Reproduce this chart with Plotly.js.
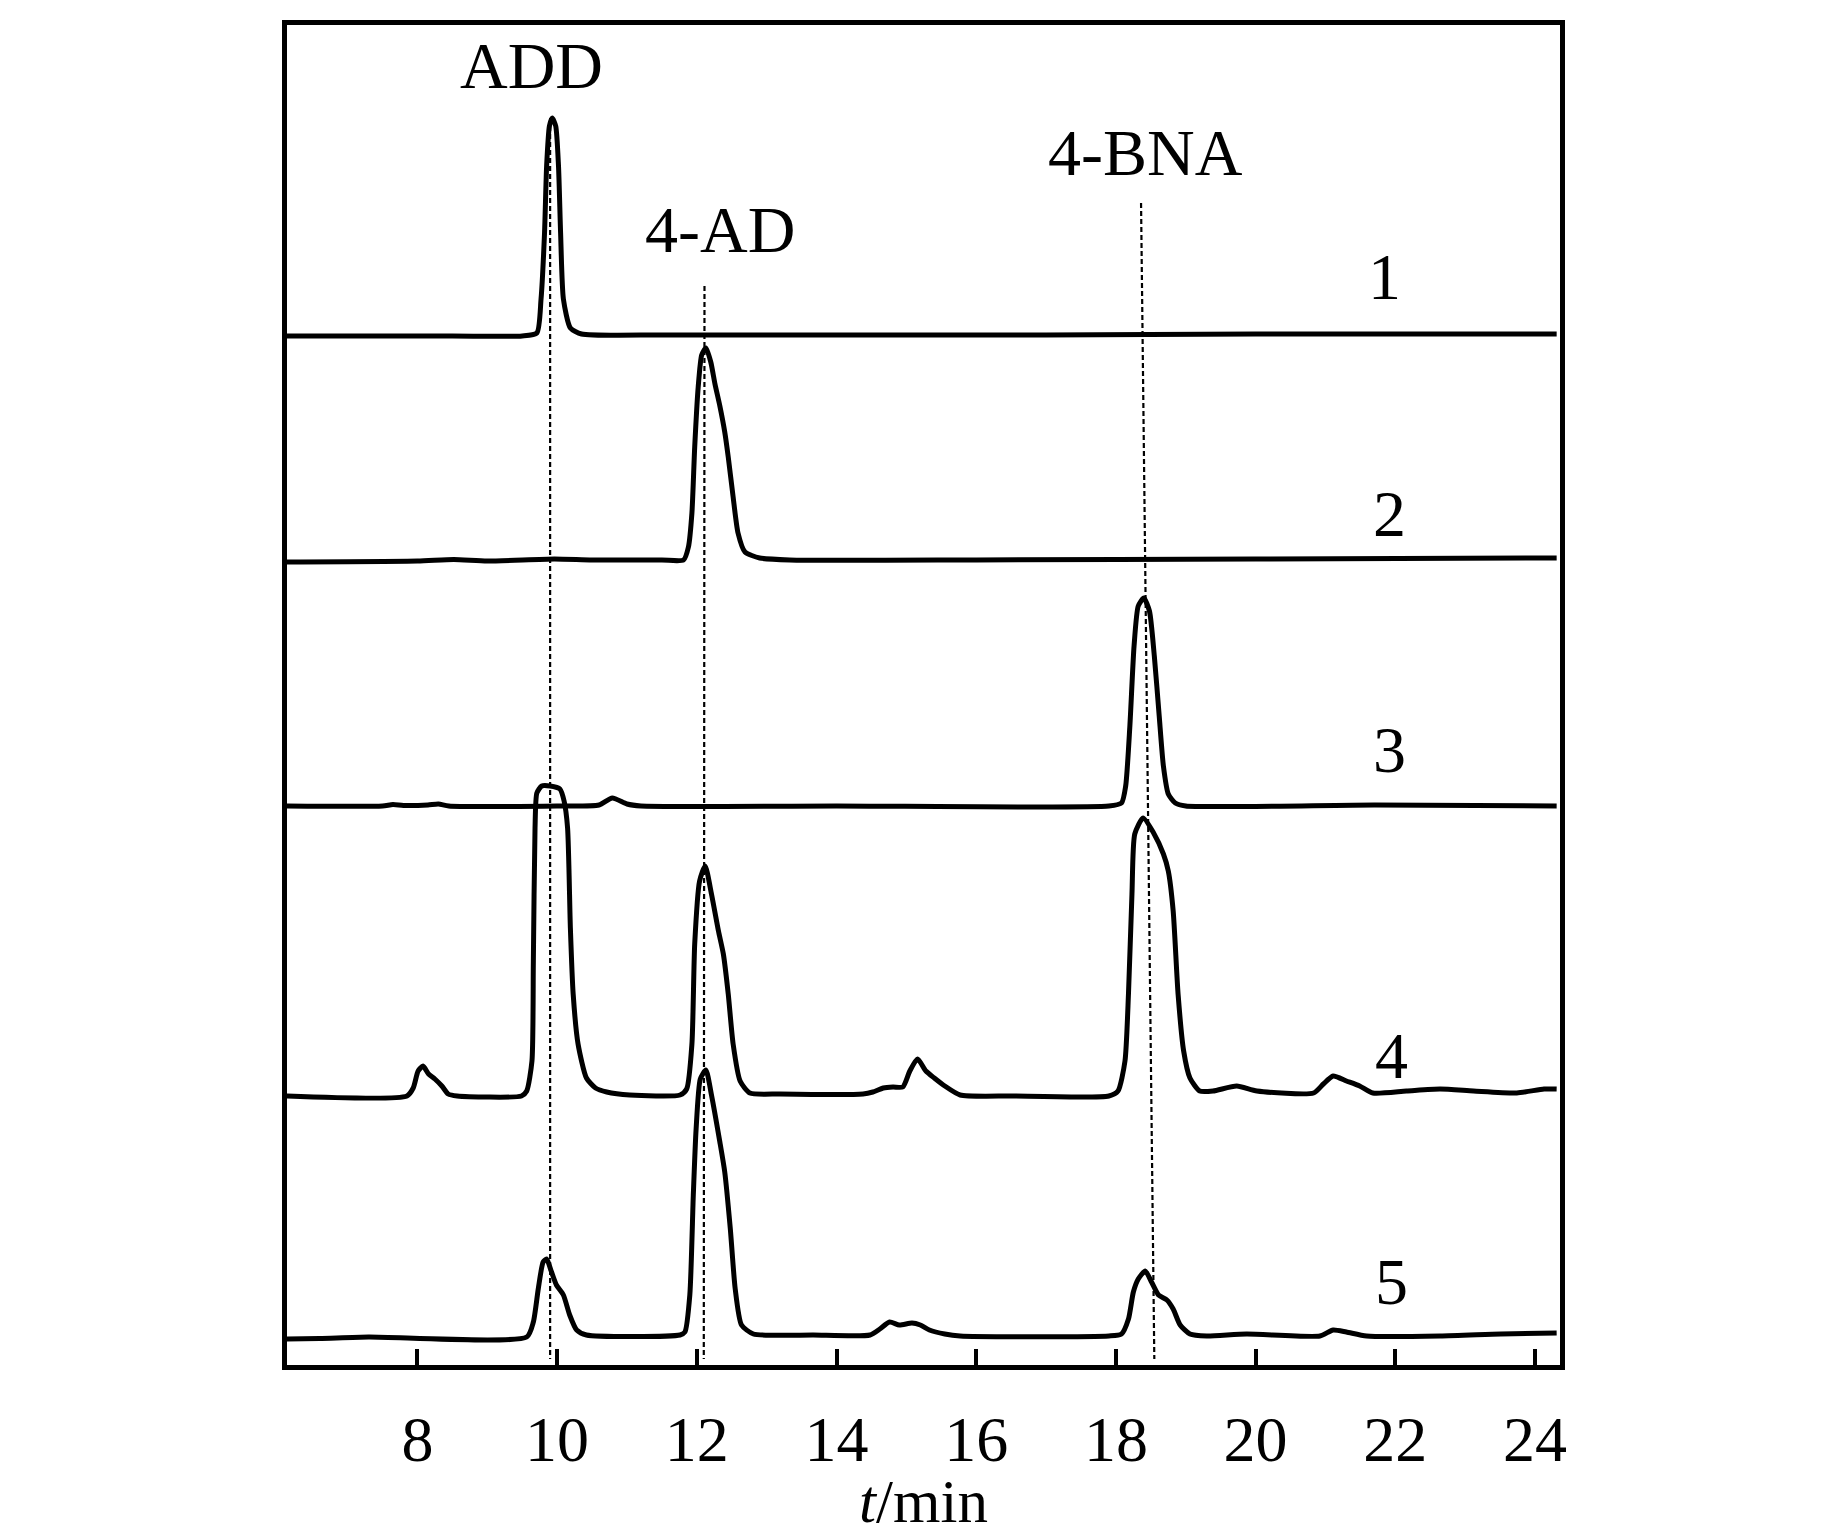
<!DOCTYPE html>
<html>
<head>
<meta charset="utf-8">
<script src="https://cdn.plot.ly/plotly-3.0.1.min.js"></script>
<style>
  html, body { margin: 0; padding: 0; background: #fff; }
  #chart { width: 1843px; height: 1535px; }
</style>
</head>
<body>
<div id="chart"></div>
<script>
// HPLC chromatograms 1-5 (arbitrary detector units above each baseline)

const tickTimes = [8, 10, 12, 14, 16, 18, 20, 22, 24];
const traceNames = ['1', '2', '3', '4', '5'];
const peakNames = ['ADD', '4-AD', '4-BNA'];

// retention time of each reference dashed line (top end, bottom end)
const dashTimeTop = [9.90, 12.11, 18.36];
const dashTimeBottom = [9.90, 12.10, 18.55];

const t1 = [6.13, 8.5, 9.5, 9.71, 9.77, 9.82, 9.85, 9.89, 9.93, 9.98, 10.02, 10.05, 10.09, 10.19, 10.35, 11.5, 14, 17, 20, 22, 24.31];
const s1 = [0, 0, 0, 3, 37, 103, 170, 210, 218, 210, 170, 103, 37, 8, 2, 1, 1, 1, 2, 2, 2];

const t2 = [6.13, 8.0, 8.52, 9.0, 9.96, 10.5, 11.5, 11.81, 11.88, 11.93, 11.97, 12.02, 12.07, 12.13, 12.20, 12.26, 12.33, 12.40, 12.45, 12.52, 12.59, 12.69, 12.90, 13.33, 16, 20, 24.31];
const s2 = [-2, -1, 0.5, -1, 1, 0, 0, 0, 13, 47, 113, 173, 205, 212, 198, 176, 154, 128, 103, 63, 27, 8, 2, 0, 0, 1, 2];

const t3 = [6.13, 7.5, 7.65, 7.8, 8.15, 8.3, 8.45, 10.0, 10.6, 10.79, 11.0, 11.2, 14, 17.9, 18.08, 18.14, 18.20, 18.26, 18.32, 18.40, 18.48, 18.55, 18.62, 18.68, 18.75, 18.85, 19.0, 21.7, 24.31];
const s3 = [0, 0, 1.5, 0.5, 1, 2, 0, 0, 1, 8, 2, 0, 0, 0, 3, 20, 80, 160, 200, 208, 195, 150, 90, 40, 12, 3, 0, 1, 0];

const t4 = [6.13, 7.85, 7.94, 8.01, 8.08, 8.16, 8.25, 8.35, 8.44, 8.57, 9.49, 9.565, 9.64, 9.66, 9.684, 9.71, 9.78, 9.90, 10.04, 10.10, 10.15, 10.19, 10.23, 10.30, 10.42, 10.55, 10.71, 11.04, 11.76,
            11.855, 11.93, 11.97, 12.04, 12.12, 12.21, 12.31, 12.38, 12.45, 12.52, 12.62, 12.76, 13.19, 14.38, 14.52, 14.67, 14.81, 14.95, 15.05, 15.16, 15.28, 15.40, 15.55, 15.77, 16.5,
            17.9, 18.03, 18.13, 18.18, 18.23, 18.27, 18.39, 18.54, 18.68, 18.75, 18.82, 18.89, 18.97, 19.06, 19.20, 19.39, 19.73, 20.02, 20.83, 20.97, 21.11, 21.30, 21.49, 21.68, 22.16, 22.64, 23.12, 23.74, 24.13, 24.31];
const s4 = [0, 0, 8, 25, 30, 22, 17, 10, 2, 0, 0, 5, 35, 135, 268, 303, 310, 310, 307, 295, 268, 168, 102, 52, 18, 8, 4, 1, 1,
            7, 52, 152, 215, 230, 202, 165, 142, 102, 52, 15, 3, 2, 2, 4, 8, 9, 9, 25, 37, 25, 18, 10, 1, 0,
            0, 5, 35, 102, 202, 262, 278, 263, 242, 225, 185, 102, 45, 18, 5, 5, 10, 5, 3, 12, 20, 15, 10, 3, 5, 7, 5, 3, 7, 7];

const t5 = [6.13, 6.6, 7.3, 9.565, 9.66, 9.73, 9.80, 9.85, 9.92, 9.99, 10.09, 10.18, 10.28, 10.42, 11.76, 11.83, 11.90, 11.95, 11.99, 12.05, 12.13, 12.21, 12.33, 12.40, 12.48, 12.55, 12.64, 12.81, 13.67,
            14.48, 14.62, 14.76, 14.90, 15.08, 15.20, 15.33, 15.55, 15.77, 17.9, 18.08, 18.18, 18.25, 18.32, 18.42, 18.51, 18.61, 18.73, 18.82, 18.92, 19.06, 19.30, 19.87, 20.92, 21.11, 21.30, 21.59, 22.64, 23.51, 24.31];
const s5 = [-2, -1.5, 0, 0, 15, 48, 75, 78, 65, 52, 42, 22, 7, 2, 2, 5, 42, 142, 208, 258, 267, 242, 195, 165, 108, 48, 12, 3, 2,
            2, 8, 15, 12, 14, 12, 7, 3, 1, 1, 3, 18, 45, 58, 66, 55, 42, 37, 28, 12, 3, 1, 3, 1, 7, 5, 1, 1, 3, 4];

const times = [t1, t2, t3, t4, t5];
const signals = [s1, s2, s3, s4, s5];

// vertical stacking of the five runs
const traceOffsets = [1031, 807, 561, 271, 30];

const serif = 'Liberation Serif, Times New Roman, serif';

window.createChromatogram = function(containerId) {
    const traces = times.map((t, i) => ({
        x: t,
        y: signals[i].map(v => v + traceOffsets[i]),
        mode: 'lines',
        type: 'scatter',
        name: traceNames[i],
        line: { color: '#000', width: 5, shape: 'spline', smoothing: 0.6 },
        hoverinfo: 'x+name'
    }));

    // dashed guides: from the standard peak down to the axis
    const dashTops = [1031 + 218, 807 + 212 + 62, 561 + 208 + 395];
    const dashTraces = peakNames.map((name, i) => ({
        x: [dashTimeTop[i], dashTimeBottom[i]],
        y: [dashTops[i], 8],
        mode: 'lines',
        type: 'scatter',
        line: { color: '#000', width: 2.2, dash: '5px,3px' },
        hoverinfo: 'skip'
    }));

    const labelFont = { family: serif, size: 66, color: '#000' };
    const annotations = [
        { x: 9.63, y: 1302, text: 'ADD' },
        { x: 12.33, y: 1138, text: '4-AD' },
        { x: 18.42, y: 1215, text: '4-BNA' },
        { x: 21.85, y: 1091, text: traceNames[0] },
        { x: 21.92, y: 854, text: traceNames[1] },
        { x: 21.92, y: 618, text: traceNames[2] },
        { x: 21.95, y: 312, text: traceNames[3] },
        { x: 21.95, y: 86, text: traceNames[4] }
    ].map(a => ({ ...a, xref: 'x', yref: 'y', showarrow: false, font: labelFont, xanchor: 'center', yanchor: 'middle' }));

    const layout = {
        width: 1843,
        height: 1535,
        margin: { l: 287, r: 283, t: 25, b: 170 },
        paper_bgcolor: '#fff',
        plot_bgcolor: '#fff',
        showlegend: false,
        xaxis: {
            range: [6.133, 24.358],
            tickvals: tickTimes,
            ticktext: tickTimes.map(String),
            ticks: 'inside',
            ticklen: 16,
            tickwidth: 3.5,
            tickcolor: '#000',
            ticklabelstandoff: 14,
            tickfont: { family: serif, size: 64, color: '#000' },
            showline: true,
            linecolor: '#000',
            linewidth: 4.5,
            mirror: true,
            showgrid: false,
            zeroline: false,
            title: {
                text: '<i>t</i>/min',
                font: { family: serif, size: 61, color: '#000' },
                standoff: 0
            }
        },
        yaxis: {
            range: [2, 1342],
            showticklabels: false,
            ticks: '',
            showline: true,
            linecolor: '#000',
            linewidth: 4.5,
            mirror: true,
            showgrid: false,
            zeroline: false
        },
        annotations: annotations
    };

    Plotly.newPlot(containerId, traces.concat(dashTraces), layout, { displayModeBar: false, responsive: false });
};

window.createChromatogram('chart');
</script>
</body>
</html>
